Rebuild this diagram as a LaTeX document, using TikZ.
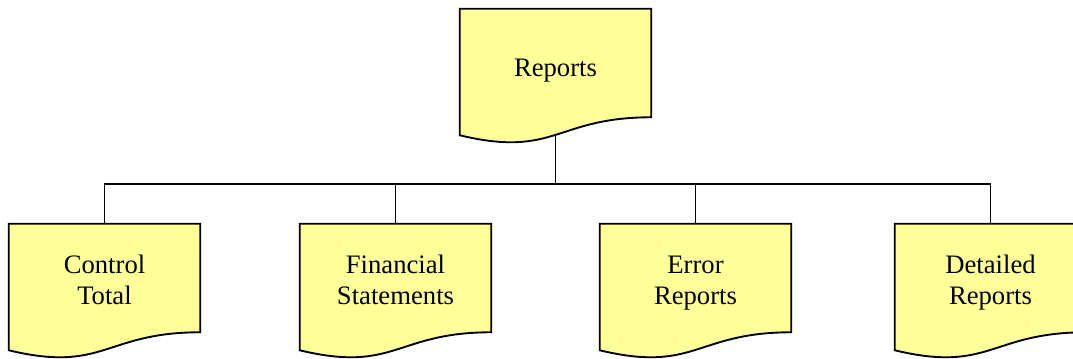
\documentclass[tikz,border=0pt]{standalone}
\usepackage{fontspec}
\setmainfont{Liberation Serif}
\usetikzlibrary{calc,backgrounds}
\definecolor{docyellow}{HTML}{FFFF99}
\tikzset{
  docbox/.style={minimum width=143.25pt, minimum height=81pt, inner sep=0pt,
    align=center, font=\fontsize{20pt}{23.25pt}\selectfont,
    execute at end node=\vphantom{p}},
  docline/.style={line width=1.4pt, draw=black, fill=docyellow},
  link/.style={line width=1.4pt}
}
% first line strut, pushes the text down a little
\newcommand{\docstrut}[1]{\rule{0pt}{#1}}
% outline of a document symbol round a node
\newcommand{\docoutline}[1]{(#1.north west) -- (#1.north east) -- (#1.south east)
  .. controls (#1.south) and ($(#1.south)+(0,41)$) .. ($(#1.south west)+(0,18)$) -- cycle}

\begin{document}
\begin{tikzpicture}[x=0.75pt, y=-0.75pt]
\useasboundingbox (0,0) rectangle (1073,358);
% documents
\node[docbox] (reports) at (555.5,63) {\docstrut{25pt}Reports};
\node[docbox] (control) at (104.5,278) {\docstrut{20pt}Control\\Total};
\node[docbox] (financial) at (395.5,278) {\docstrut{20pt}Financial\\Statements};
\node[docbox] (error) at (695.5,278) {\docstrut{20pt}Error\\Reports};
\node[docbox] (detailed) at (990.5,278) {\docstrut{20pt}Detailed\\Reports};
\coordinate (hub) at ($(reports.south)+(0,67)$);
\begin{scope}[on background layer]
% connectors
\foreach \c in {control, financial, error, detailed} {
    \draw[link] (reports.south) -- (hub) -| (\c.north);
}
% shapes
\foreach \n in {reports, control, financial, error, detailed} {
    \draw[docline] \docoutline{\n};
}
\end{scope}
\end{tikzpicture}
\end{document}
